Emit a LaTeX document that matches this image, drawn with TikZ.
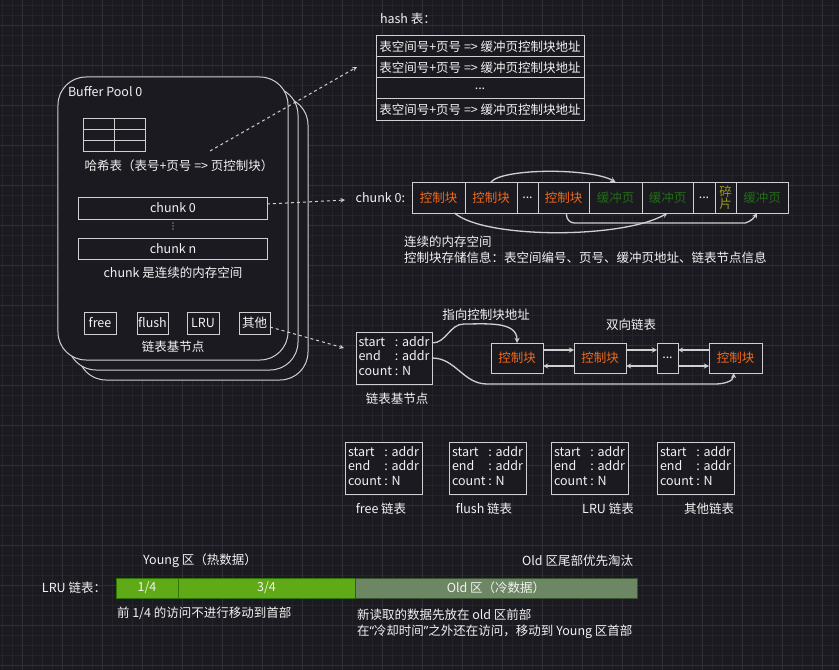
\documentclass[tikz,border=0pt]{standalone}
\usepackage{fontspec}
\setmainfont{Noto Sans CJK SC}
\newfontfamily\latinq{Noto Sans}
\usepackage{xcolor}
\usetikzlibrary{positioning, arrows}
\definecolor{bgc}{HTML}{1B1A21}
\definecolor{gridminor}{HTML}{25242B}
\definecolor{gridmajor}{HTML}{302F37}
\definecolor{linec}{HTML}{D0D0D0}
\definecolor{txt}{HTML}{F2F2F2}
\definecolor{ctrlc}{HTML}{F26A1B}
\definecolor{pagec}{HTML}{236B17}
\definecolor{fragc}{HTML}{9C9A18}
\definecolor{youngc}{HTML}{60A917}
\definecolor{youngd}{HTML}{2D7600}
\definecolor{oldc}{HTML}{6D8764}
\definecolor{oldd}{HTML}{3A5431}
\tikzstyle{pool} = [rectangle, draw=linec, fill=bgc, line width=1bp, rounded corners=28bp, minimum width=230bp, minimum height=283bp, inner sep=0, outer sep=0]
\tikzstyle{box} = [rectangle, draw=linec, fill=bgc, line width=1bp, text=txt, inner sep=0, outer sep=0, minimum height=22bp]
\tikzstyle{cell} = [box, minimum height=31bp]
\tikzstyle{ctrlcell} = [cell, text=ctrlc]
\tikzstyle{pagecell} = [cell, text=pagec]
\tikzstyle{listbox} = [box, minimum width=76bp, minimum height=52bp]
\tikzstyle{young} = [box, fill=youngc, draw=youngd, minimum height=20bp]
\tikzstyle{oldzone} = [box, fill=oldc, draw=oldd, minimum height=20bp]
\tikzstyle{blank} = [inner sep=0, outer sep=0, text=txt]
\tikzstyle{line} = [draw=linec, line width=1.3bp, ->, >=stealth]
\tikzstyle{dline} = [line, line width=1bp, dash pattern=on 3bp off 3bp]
\tikzstyle{gminor} = [draw=gridminor, line width=0.8bp]
\tikzstyle{gmajor} = [draw=gridmajor, line width=0.8bp]
\newcommand{\headrows}{\begin{tabular}{@{}l@{ }l@{}}start & : addr\\end & : addr\\count & : N\end{tabular}}

\begin{document}
\begin{tikzpicture}[x=1bp, y=-1bp, font=\fontsize{12.5bp}{14.5bp}\selectfont]

\useasboundingbox (0,0) rectangle (839,670);
\fill[bgc] (0,0) rectangle (839,670);
\foreach \x in {2,12,...,839} \draw[gminor] (\x,0) -- (\x,670);
\foreach \y in {5,15,...,670} \draw[gminor] (0,\y) -- (839,\y);
\foreach \x in {22,62,...,839} \draw[gmajor] (\x,0) -- (\x,670);
\foreach \y in {25,65,...,670} \draw[gmajor] (0,\y) -- (839,\y);

% buffer pool
\node [pool] (pool3) at (193,238.5) {};
\node [pool] (pool2) at (183,228.5) {};
\node [pool] (pool1) at (173,218.5) {};
\node [blank, anchor=west] (title) at (68,92) {Buffer Pool 0};

\node [box, minimum width=62bp, minimum height=32bp] (htab) at (114,135) {};
\draw [draw=linec, line width=1bp] (htab.north) -- (htab.south);
\draw [draw=linec, line width=1bp] ([yshift=-10.7bp]htab.north west) -- ([yshift=-10.7bp]htab.north east);
\draw [draw=linec, line width=1bp] ([yshift=10.7bp]htab.south west) -- ([yshift=10.7bp]htab.south east);
\node [blank] (hlabel) at (179,166) {哈希表（表号+页号 => 页控制块）};

\node [box, minimum width=188bp] (chunk0) at (173,208) {chunk 0};
\foreach \d in {223,226,229} \fill[txt] (173,\d) circle (0.6bp);
\node [box, minimum width=188bp, minimum height=21bp] (chunkn) at (173,248.5) {chunk n};
\node [blank] (chunklabel) at (173,273) {chunk 是连续的内存空间};

\node [box, minimum width=32bp] (free) at (100,323) {free};
\node [box, minimum width=31bp, right=21bp of free] (flush) {flush};
\node [box, minimum width=32bp, right=19bp of flush] (lru) {LRU};
\node [box, minimum width=31bp, right=20bp of lru] (other) {其他};
\node [blank] (baselabel) at (173,347) {链表基节点};

% hash table
\node [blank, anchor=west] (hashtitle) at (380,19) {hash 表：};
\node [box, minimum width=208bp, minimum height=21bp] (h1) at (480,46.5) {表空间号+页号 => 缓冲页控制块地址};
\node [box, minimum width=208bp, minimum height=21bp, below=0pt of h1] (h2) {表空间号+页号 => 缓冲页控制块地址};
\node [box, minimum width=208bp, minimum height=21bp, below=0pt of h2] (h3) {...};
\node [box, minimum width=208bp, minimum height=21bp, below=0pt of h3] (h4) {表空间号+页号 => 缓冲页控制块地址};

% chunk 0
\node [blank, anchor=east] (chunktitle) at (405,197.5) {chunk 0:};
\node [ctrlcell, minimum width=53bp] (c1) at (438.5,197.5) {控制块};
\node [ctrlcell, minimum width=52bp, right=0pt of c1] (c2) {控制块};
\node [cell, minimum width=21bp, right=0pt of c2] (c3) {...};
\node [ctrlcell, minimum width=51bp, right=0pt of c3] (c4) {控制块};
\node [pagecell, minimum width=53bp, right=0pt of c4] (c5) {缓冲页};
\node [pagecell, minimum width=51bp, right=0pt of c5] (c6) {缓冲页};
\node [cell, minimum width=22bp, right=0pt of c6] (c7) {...};
\node [cell, text=fragc, minimum width=21bp, align=center, right=0pt of c7] (c8) {碎\\[-2bp]片};
\node [pagecell, minimum width=52bp, right=0pt of c8] (c9) {缓冲页};

\draw [line] (c2.north) .. controls +(12,-14) and +(-25,-14) .. (c5.north);
\draw [line] ([xshift=16bp]c1.south) .. controls +(30,26) and +(-45,26) .. (c6.south);
\draw [line, rounded corners=8bp] ([xshift=3bp]c4.south) |- ([xshift=-25bp, yshift=-10bp]c9.south) to[out=0, in=-120] ([xshift=-5bp]c9.south);

\node [blank, anchor=north west, align=left, font=\fontsize{12.5bp}{16bp}\selectfont] (chunkinfo) at (404,236) {连续的内存空间\\控制块存储信息：表空间编号、页号、缓冲页地址、链表节点信息};

% list base node and double linked list
\node [listbox] (head) at (394,358) {\headrows};
\node [blank] (headlabel) at (397,399) {链表基节点};
\node [blank] (ptrlabel) at (486,315) {指向控制块地址};
\node [blank] (dlabel) at (631,325) {双向链表};

\node [box, text=ctrlc, minimum width=52bp, minimum height=30bp] (l1) at (517,358) {控制块};
\node [box, text=ctrlc, minimum width=52bp, minimum height=30bp, right=31bp of l1] (l2) {控制块};
\node [box, minimum width=21bp, minimum height=30bp, right=31bp of l2] (ld) {...};
\node [box, text=ctrlc, minimum width=53bp, minimum height=30bp, right=31bp of ld] (l4) {控制块};

\draw [line] ([yshift=8bp]l1.east) -- ([yshift=8bp]l2.west);
\draw [line] ([yshift=-8bp]l2.west) -- ([yshift=-8bp]l1.east);
\draw [line] ([yshift=8bp]l2.east) -- ([yshift=8bp]ld.west);
\draw [line] ([yshift=-8bp]ld.west) -- ([yshift=-8bp]l2.east);
\draw [line] ([yshift=8bp]l4.west) -- ([yshift=8bp]ld.east);
\draw [line] ([yshift=-8bp]ld.east) -- ([yshift=-8bp]l4.west);

\draw [line] ([yshift=15bp]head.east) to[out=0, in=180] ++(32,-19) to[out=0, in=90] (l1.north);
\draw [line] (head.east) to[out=0, in=180] ++(55,26) -- ++(228,0) to[out=0, in=-90] ([xshift=-2bp]l4.south);

% dashed links
\coordinate (hsrc) at (210,151);
\coordinate (hdst) at (357,67);
\coordinate (cdst) at (345,200);
\coordinate (odst) at (344,348);
\path [dline] (hsrc) -- (hdst);
\path [dline] ([yshift=4bp]chunk0.east) -- (cdst);
\path [dline] ([yshift=-4bp]other.east) -- (odst);

% four lists
\node [listbox, minimum width=77bp] (freelist) at (383.5,468) {\headrows};
\node [listbox, minimum width=77bp] (flushlist) at (487.5,468) {\headrows};
\node [listbox, minimum width=77bp] (lrulist) at (589.5,468) {\headrows};
\node [listbox, minimum width=77bp] (otherlist) at (695.5,468) {\headrows};
\node [blank] (freelabel) at (381,509) {free 链表};
\node [blank] (flushlabel) at (484,509) {flush 链表};
\node [blank] (lrulabel) at (608,509) {LRU 链表};
\node [blank] (otherlabel) at (709,509) {其他链表};

% LRU
\node [blank, anchor=east] (lrutitle) at (106,588) {LRU 链表：};
\node [young, minimum width=62bp] (y1) at (147,588) {1/4};
\node [young, minimum width=177bp, right=0pt of y1] (y2) {3/4};
\node [oldzone, minimum width=282bp, right=0pt of y2] (old) {Old 区（冷数据）};
\node [blank] (younglabel) at (200,561) {Young 区（热数据）};
\node [blank, anchor=east] (oldlabel) at (633,561) {Old 区尾部优先淘汰};
\node [blank, anchor=west] (headnote) at (117,613) {前 1/4 的访问不进行移动到首部};
\node [blank, anchor=north west, align=left, font=\fontsize{12.5bp}{16bp}\selectfont] (oldnote) at (357,609) {新读取的数据先放在 old 区前部\\在{\latinq “}冷却时间{\latinq ”}之外还在访问，移动到 Young 区首部};

\end{tikzpicture}
\end{document}
